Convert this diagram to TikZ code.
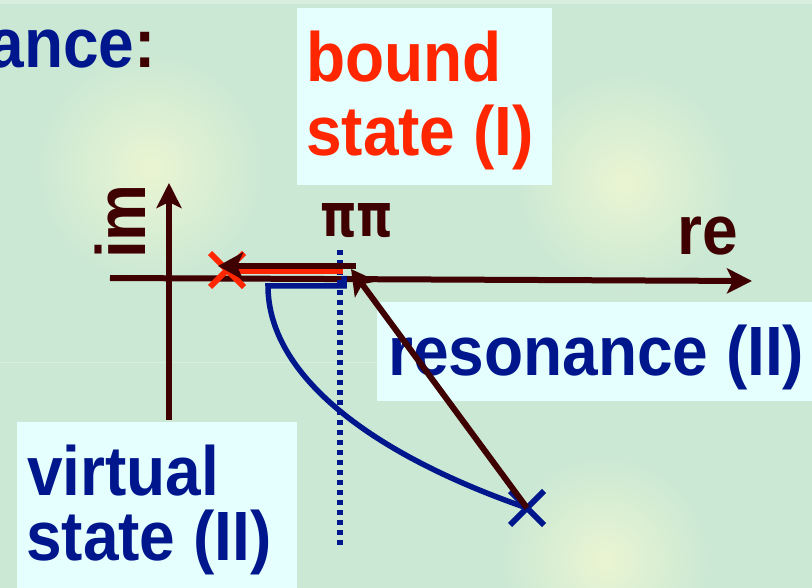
\documentclass[tikz,border=0pt]{standalone}
\usepackage{fontspec}
\setmainfont{Liberation Sans}
\newfontfamily\pifont{DejaVu Sans}
\usetikzlibrary{arrows.meta,shapes.misc}
\definecolor{bg}{RGB}{203,232,212}
\definecolor{glow}{RGB}{234,245,210}
\definecolor{boxfill}{RGB}{228,255,254}
\definecolor{bred}{RGB}{255,38,0}
\definecolor{bblue}{RGB}{0,22,140}
\definecolor{dbrown}{RGB}{62,0,0}
\newcommand{\tall}[1]{\scalebox{1}[1.09]{#1}}
\begin{document}
\begin{tikzpicture}[x=1pt,y=-1pt,
  box/.style={fill=boxfill, draw=none, anchor=north west, inner sep=0, outer sep=0},
  txt/.style={inner sep=0, anchor=base west, font=\fontsize{64}{64}\selectfont\bfseries},
  axis/.style={draw=dbrown, line width=6pt, -{Stealth[length=25pt,width=25pt,inset=6pt]}},
  parrow/.style={draw=dbrown, line width=6pt, -{Stealth[length=25pt,width=27pt,inset=6pt]}},
  pole/.style={cross out, draw=#1, line width=6pt, minimum size=28pt, inner sep=0}]
\useasboundingbox (0,0) rectangle (812,588);
\fill[bg] (0,0) rectangle (812,588);
\shade[inner color=glow, outer color=bg] (150,168) circle (115);
\shade[inner color=glow, outer color=bg] (625,182) circle (110);
\shade[inner color=glow, outer color=bg] (605,560) circle (105);
\fill[white, opacity=0.25] (0,0) rectangle (812,4);
\draw[white, opacity=0.3, line width=1pt] (0,362) -- (812,362);

% boxes
\node[box, minimum width=255pt, minimum height=177pt] (bbox) at (297,8) {};
\node[box, minimum width=440pt, minimum height=99pt] (rbox) at (377,302) {};
\node[box, minimum width=280pt, minimum height=170pt] (vbox) at (17,422) {};

% texts
\node[txt, anchor=base east] (title) at (156,68) {\tall{\color{bblue}ance\color{dbrown}:}};
\node[txt, text=bred] (b1) at (306,82) {\tall{bound}};
\node[txt, text=bred] (b2) at (306,156) {\tall{state (I)}};
\node[txt, text=bblue] (r1) at (388,375) {\tall{resonance (II)}};
\node[txt, text=bblue] (v1) at (27,495) {\tall{virtual}};
\node[txt, text=bblue] (v2) at (26,560) {\tall{state (II)}};
\node[txt, text=dbrown] (re) at (677,255) {\tall{re}};
\node[txt, text=dbrown, rotate=90] (im) at (145,259) {\tall{im}};
\node[txt, text=dbrown] (pipi) at (320,237) {\resizebox{73pt}{33pt}{\pifont\bfseries ππ}};

% axes
\coordinate (hx0) at (110,278);
\coordinate (hx1) at (752,281);
\coordinate (vy0) at (169,420);
\coordinate (vy1) at (169,183);
\draw[axis] (hx0) -- (hx1);
\draw[axis] (vy0) -- (vy1);

% threshold dotted line
\coordinate (th0) at (340,250);
\coordinate (th1) at (340,548);
\draw[bblue, line width=5.5pt, dash pattern=on 5pt off 5pt] (th0) -- (th1);

% poles
\node[pole=bred] (bs) at (227,270) {};
\node[pole=bblue] (res) at (527,508) {};

% red bound-state line
\coordinate (r0) at (233,271);
\coordinate (r1e) at (343,271);
\draw[bred, line width=5.5pt] (r0) -- (r1e);

% blue virtual-state path
\coordinate (bl0) at (344,276);
\coordinate (bl1) at (344,286);
\coordinate (bl2) at (268,286);
\draw[bblue, line width=5.5pt, line join=miter] (bl0) -- (bl1) -- (bl2)
  .. controls (268,370) and (360,450) .. (res.center);

% brown arrows
\coordinate (thr) at (356,266);
\coordinate (bstip) at (218,266);
\coordinate (restip) at (351,269);
\draw[parrow] (thr) -- (bstip);
\draw[parrow] (res.center) -- (restip);
\end{tikzpicture}
\end{document}
